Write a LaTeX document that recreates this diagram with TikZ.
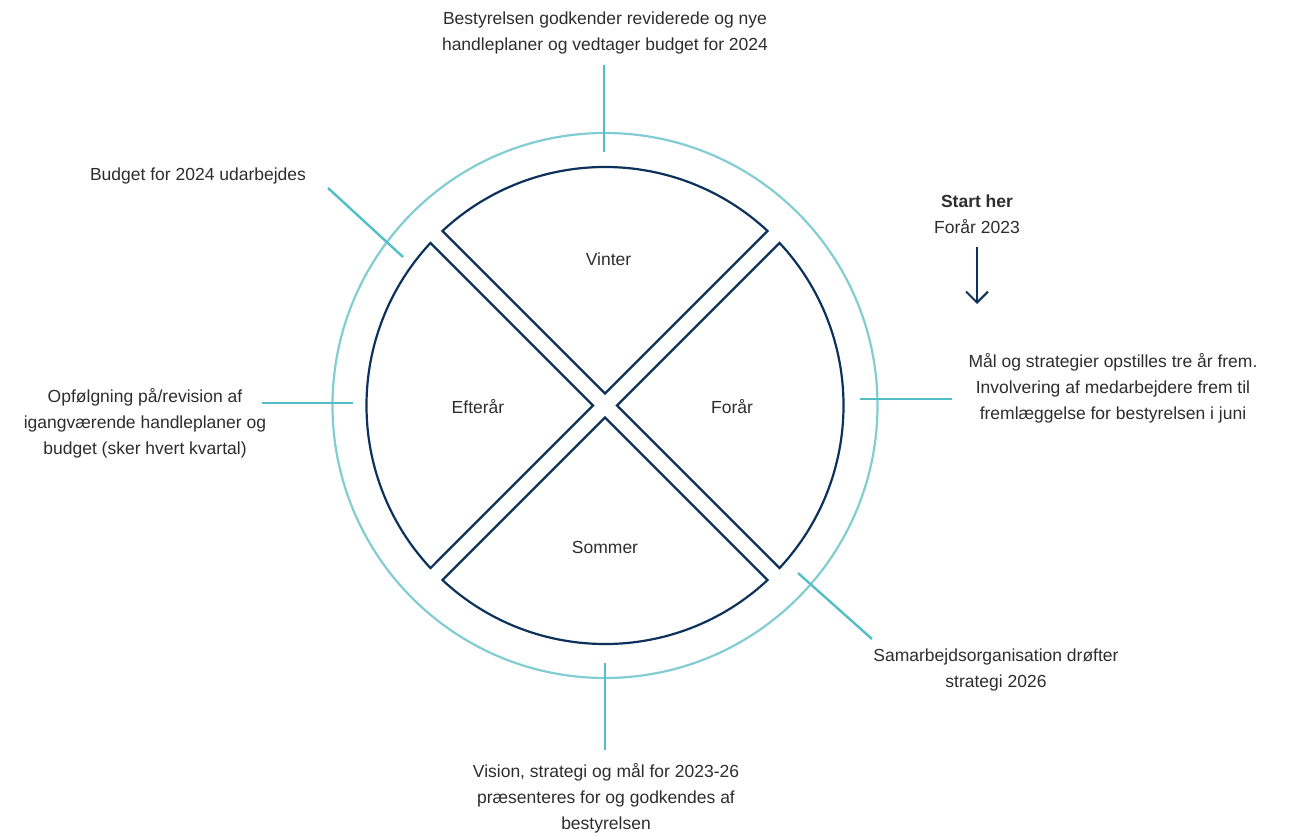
\documentclass[tikz,border=0pt]{standalone}
\usepackage{fontspec}
\setmainfont{Liberation Sans}
\usetikzlibrary{arrows.meta}
\definecolor{navy}{RGB}{12,50,92}
\definecolor{ringc}{RGB}{130,205,210}
\definecolor{tickc}{RGB}{82,190,200}
\definecolor{txt}{RGB}{45,45,45}
\tikzset{
  lbl/.style={align=center, inner sep=0pt, text=txt, font=\fontsize{17.5}{26}\selectfont},
  seclbl/.style={inner sep=0pt, text=txt, font=\fontsize{17.5}{26}\selectfont},
  sector/.style={draw=navy, line width=2.2pt, line join=miter},
  ring/.style={draw=ringc, line width=2.2pt},
  tick/.style={draw=tickc, line width=2.4pt},
}
\begin{document}
\begin{tikzpicture}[x=1pt,y=-1pt]
\useasboundingbox (0,0) rectangle (1293,837);
\coordinate (C) at (605,405.5);
% outer ring
\draw[ring] (C) circle[radius=272.5pt];
% sectors
\begin{scope}[shift={(605,405.5)}, yscale=-1]
  \foreach \r in {0,90,180,270}{
    \draw[sector, rotate=\r] (0,12) -- (162.54,174.54)
      arc[start angle=47.03, end angle=132.97, radius=238.5] -- cycle;
  }
\end{scope}
% sector labels
\node[seclbl] (vinter) at (608.5,259) {Vinter};
\node[seclbl] (efteraar) at (478,407) {Efterår};
\node[seclbl] (foraar) at (732,407) {Forår};
\node[seclbl] (sommer) at (605,547) {Sommer};
% texts
\node[lbl] (ttop) at (605,33) {Bestyrelsen godkender reviderede og nye\\handleplaner og vedtager budget for 2024};
\node[lbl] (tbudget) at (198,176) {Budget for 2024 udarbejdes};
\node[lbl] (tstart) at (977,214) {\textbf{Start her}\\Forår 2023};
\node[lbl] (tright) at (1113,388) {Mål og strategier opstilles tre år frem.\\Involvering af medarbejdere frem til\\fremlæggelse for bestyrelsen i juni};
\node[lbl] (tleft) at (145,423) {Opfølgning på/revision af\\igangværende handleplaner og\\budget (sker hvert kvartal)};
\node[lbl] (tbr) at (996,670) {Samarbejdsorganisation drøfter\\strategi 2026};
\node[lbl] (tbottom) at (606,798) {Vision, strategi og mål for 2023-26\\præsenteres for og godkendes af\\bestyrelsen};
% tick coordinates
\coordinate (a1) at (604,65);  \coordinate (a2) at (604,152);
\coordinate (b1) at (328,188); \coordinate (b2) at (403,257);
\coordinate (c1) at (262,403); \coordinate (c2) at (353,403);
\coordinate (d1) at (952,399); \coordinate (d2) at (860,399);
\coordinate (e1) at (872,639); \coordinate (e2) at (798,573);
\coordinate (f1) at (605,750); \coordinate (f2) at (605,663);
\draw[tick] (a1) -- (a2);
\draw[tick] (b1) -- (b2);
\draw[tick] (c1) -- (c2);
\draw[tick] (d1) -- (d2);
\draw[tick] (e1) -- (e2);
\draw[tick] (f1) -- (f2);
% start arrow
\coordinate (s1) at (977,247);
\coordinate (s2) at (977,304);
\draw[navy, line width=2pt, -{Straight Barb[length=11pt,width=22pt,line width=2pt]}] (s1) -- (s2);
\end{tikzpicture}
\end{document}
